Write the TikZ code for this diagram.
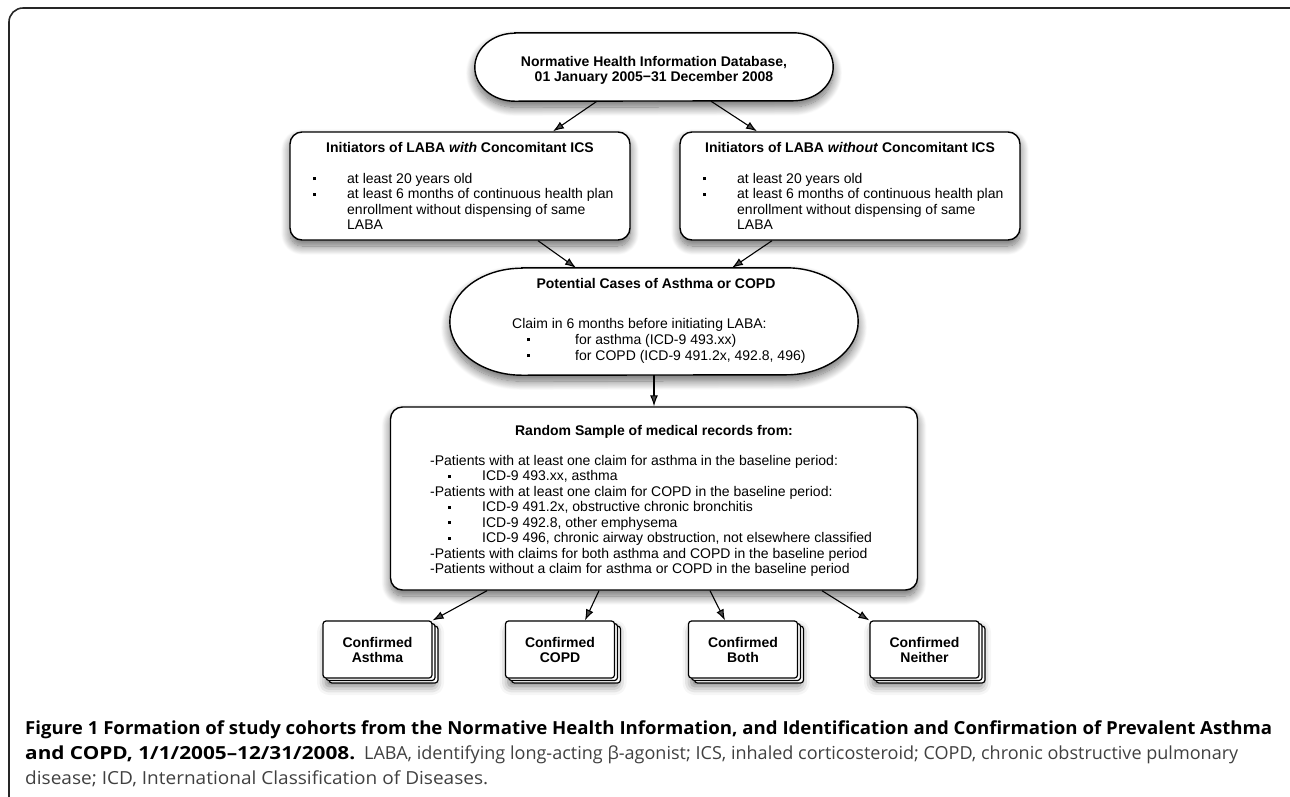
\documentclass[tikz,border=0pt]{standalone}
\usepackage{fontspec}
\setmainfont{Liberation Sans}
\newfontfamily\capfont{Open Sans}
\usetikzlibrary{shadows,shadows.blur,arrows.meta,calc}
\definecolor{capgray}{HTML}{404040}
\newcommand\blt{\rule[2.8pt]{3.2pt}{3.2pt}}
\newcommand\fsz{\fontsize{14}{15.5}\selectfont}
\newcommand\fitw[2]{\resizebox{#1}{\height}{#2}}
\begin{document}
\begin{tikzpicture}[x=1pt,y=-1pt,
  shad/.style={blur shadow={shadow xshift=0pt,shadow yshift=-6pt,shadow blur radius=9pt,shadow blur steps=14,shadow opacity=60}},
  shapeline/.style={draw=black,line width=1.4pt,fill=white},
  ghost/.style={draw=none,inner sep=0pt},
  capshape/.style={shapeline,shad},
  ibox/.style={shapeline,shad,rounded corners=12pt,minimum width=340pt,minimum height=108pt,inner sep=0pt},
  rsbox/.style={shapeline,shad,rounded corners=12pt,minimum width=527pt,minimum height=183pt,inner sep=0pt},
  conf/.style={draw=black,line width=1.2pt,fill=white,rounded corners=3pt,minimum width=109pt,minimum height=57pt,inner sep=0pt,align=center,
    font=\fontsize{14}{15}\selectfont\bfseries,
    blur shadow={shadow xshift=3pt,shadow yshift=-8pt,shadow blur radius=9pt,shadow opacity=55},
    double copy shadow={shadow xshift=3pt,shadow yshift=-2.5pt}},
  arr/.style={-{Latex[length=11pt,width=8pt]},line width=1.1pt},
  ttl/.style={font=\fsz\bfseries,anchor=base,inner sep=0pt},
  body/.style={font=\fsz,anchor=base west,inner sep=0pt},
  capbold/.style={font=\capfont\fontsize{18}{22}\selectfont\bfseries,anchor=base west,inner sep=0pt},
  capreg/.style={font=\capfont\fontsize{18}{22}\selectfont,text=capgray,anchor=base west,inner sep=0pt}
]
\useasboundingbox (0,0) rectangle (1290,796);
% frame
\draw[line width=1.6pt,black!85,rounded corners=14pt] (9,840) -- (9,8) -- (1305,8) -- (1305,840);

% top capsule
\node[ghost,minimum width=358pt,minimum height=68pt] (db) at (654,67) {};
\path[capshape] ($(db.north west)+(40,0)$) -- ($(db.north east)+(-40,0)$)
  arc[start angle=90,end angle=-90,x radius=40pt,y radius=34pt]
  -- ($(db.south west)+(40,0)$)
  arc[start angle=270,end angle=90,x radius=40pt,y radius=34pt] -- cycle;
\node[ttl] (dbt1) at (654,66) {Normative Health Information Database,};
\node[ttl] (dbt2) at (654,81) {01 January 2005−31 December 2008};

% initiator boxes
\node[ibox] (lb) at (460,186) {};
\node[ibox] (rb) at (850,186) {};
\node[ttl] (lbt) at (460,152) {Initiators of LABA \textit{with} Concomitant ICS};
\node[ttl] (rbt) at (850,152) {Initiators of LABA \textit{without} Concomitant ICS};
\node[body] (lbb) at (313,183) {\begin{tabular}[t]{@{}l@{}}
\makebox[34pt][l]{\blt}at least 20 years old\\
\makebox[34pt][l]{\blt}at least 6 months of continuous health plan\\
\hspace*{34pt}enrollment without dispensing of same\\
\hspace*{34pt}LABA\end{tabular}};
\node[body] (rbb) at (703,183) {\begin{tabular}[t]{@{}l@{}}
\makebox[34pt][l]{\blt}at least 20 years old\\
\makebox[34pt][l]{\blt}at least 6 months of continuous health plan\\
\hspace*{34pt}enrollment without dispensing of same\\
\hspace*{34pt}LABA\end{tabular}};

% potential cases capsule
\node[ghost,minimum width=408pt,minimum height=107pt] (pc) at (654,321.5) {};
\path[capshape] ($(pc.north west)+(72,0)$) -- ($(pc.north east)+(-72,0)$)
  arc[start angle=90,end angle=-90,x radius=72pt,y radius=53.5pt]
  -- ($(pc.south west)+(72,0)$)
  arc[start angle=270,end angle=90,x radius=72pt,y radius=53.5pt] -- cycle;
\node[ttl] (pct) at (656,288) {Potential Cases of Asthma or COPD};
\node[body,font=\fontsize{14}{16}\selectfont] (pcb) at (512,328) {\begin{tabular}[t]{@{}l@{}}
Claim in 6 months before initiating LABA:\\
\hspace*{15pt}\makebox[48pt][l]{\blt}for asthma (ICD-9 493.xx)\\
\hspace*{15pt}\makebox[48pt][l]{\blt}for COPD (ICD-9 491.2x, 492.8, 496)\end{tabular}};

% random sample box
\node[rsbox] (rs) at (654,498.5) {};
\node[ttl] (rst) at (654,435) {Random Sample of medical records from:};
\node[body] (rsb) at (430,465) {\begin{tabular}[t]{@{}l@{}}
-Patients with at least one claim for asthma in the baseline period:\\
\hspace*{18pt}\makebox[34pt][l]{\blt}ICD-9 493.xx, asthma\\
-Patients with at least one claim for COPD in the baseline period:\\
\hspace*{18pt}\makebox[34pt][l]{\blt}ICD-9 491.2x, obstructive chronic bronchitis\\
\hspace*{18pt}\makebox[34pt][l]{\blt}ICD-9 492.8, other emphysema\\
\hspace*{18pt}\makebox[34pt][l]{\blt}ICD-9 496, chronic airway obstruction, not elsewhere classified\\
-Patients with claims for both asthma and COPD in the baseline period\\
-Patients without a claim for asthma or COPD in the baseline period\end{tabular}};

% confirmed boxes
\node[conf] (c1) at (377.5,649.5) {Confirmed\\Asthma};
\node[conf] (c2) at (560,649.5) {Confirmed\\COPD};
\node[conf] (c3) at (743,649.5) {Confirmed\\Both};
\node[conf] (c4) at (924.5,649.5) {Confirmed\\Neither};

% connectors
\draw[arr] ([xshift=-57pt]db.south) -- ([xshift=93pt]lb.north);
\draw[arr] ([xshift=57pt]db.south) -- ([xshift=-93pt]rb.north);
\draw[arr] ([xshift=78pt]lb.south) -- ([xshift=-78pt]pc.north);
\draw[arr] ([xshift=-78pt]rb.south) -- ([xshift=78pt]pc.north);
\draw[arr] (pc.south) -- (rs.north);
\draw[arr] ([xshift=-167pt]rs.south) -- (c1.north east);
\draw[arr] ([xshift=-55pt]rs.south) -- ([xshift=25pt]c2.north);
\draw[arr] ([xshift=56pt]rs.south) -- ([xshift=-18pt]c3.north);
\draw[arr] ([xshift=168pt]rs.south) -- (c4.north west);

% caption
\node[capbold] (cap1) at (25,734) {\fitw{1247pt}{Figure 1 Formation of study cohorts from the Normative Health Information, and Identification and Confirmation of Prevalent Asthma}};
\node[capbold] (cap2) at (25,759) {\fitw{330pt}{and COPD, 1/1/2005–12/31/2008.}};
\node[capreg] (cap2b) at (364,759) {\fitw{874pt}{LABA, identifying long-acting β-agonist; ICS, inhaled corticosteroid; COPD, chronic obstructive pulmonary}};
\node[capreg] (cap3) at (25,784) {\fitw{463pt}{disease; ICD, International Classification of Diseases.}};
\end{tikzpicture}
\end{document}
